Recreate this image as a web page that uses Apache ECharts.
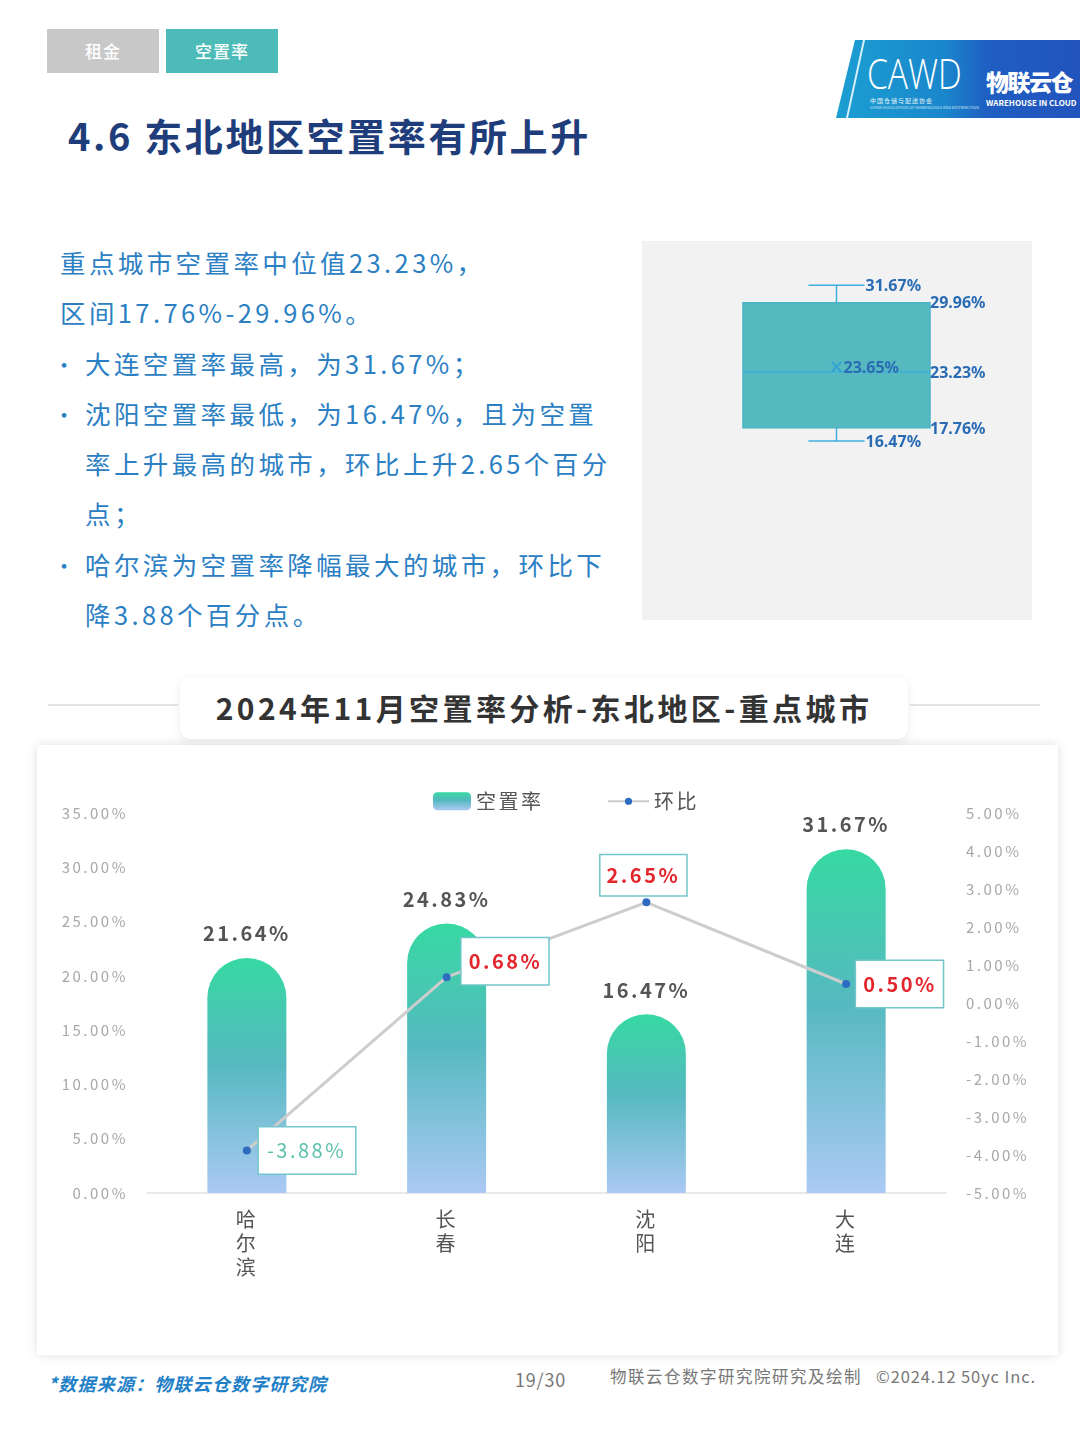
<!DOCTYPE html>
<html lang="zh-CN">
<head>
<meta charset="utf-8">
<script src="https://cdn.jsdelivr.net/npm/echarts@6/dist/echarts.min.js"></script>
<style>
  html,body{margin:0;padding:0;background:#fff;}
  #page{position:relative;width:1080px;height:1440px;overflow:hidden;background:#fff;
        font-family:"Noto Sans CJK SC","Noto Sans",sans-serif;}
  .abs{position:absolute;}
  .tab{position:absolute;top:29px;height:44px;width:112px;color:#fff;font-size:17px;
       line-height:44px;text-align:center;font-weight:500;letter-spacing:1px;}
  #title{left:68px;top:108px;font-size:38px;font-weight:700;color:#1e3d7a;letter-spacing:2.6px;line-height:54px;white-space:nowrap;}
  #desc{left:60px;top:237px;color:#2b80c4;font-size:25.5px;letter-spacing:3.4px;}
  #desc .ln{height:50.3px;line-height:50px;white-space:nowrap;position:relative;}
  #desc .ind{padding-left:25px;}
  #desc .b::before{content:"•";position:absolute;left:-7px;top:0;font-size:22px;}
  #boxPanel{left:642px;top:241px;width:390px;height:379px;background:#f2f2f2;}
  #ctitleLineL{left:48px;top:704px;width:130px;height:2px;background:#e4e4e4;}
  #ctitleLineR{left:910px;top:704px;width:130px;height:2px;background:#e4e4e4;}
  #ctitle{left:180px;top:677px;width:728px;height:62px;background:#fff;border-radius:10px;
          box-shadow:0 3px 10px rgba(0,0,0,0.08);text-align:center;line-height:60px;
          font-size:30px;font-weight:700;color:#333;letter-spacing:3.4px;white-space:nowrap;}
  #card{left:37px;top:745px;width:1021px;height:610px;background:#fff;box-shadow:0 0 10px rgba(0,0,0,0.13);}
  #main{left:37px;top:745px;width:1021px;height:610px;}
  .foot{position:absolute;white-space:nowrap;}
  #logo{left:836px;top:40px;width:244px;height:78px;
        clip-path:polygon(19px 0,100% 0,100% 100%,0 100%);
        background:linear-gradient(90deg,#1b9fd2 0%,#1a86cc 45%,#1f5ec2 62%,#2254bd 100%);}
  #logoStripe{left:846px;top:40px;width:22px;height:78px;
        clip-path:polygon(17px 0,19px 0,2px 100%,0 100%);background:#d9f0fb;}
</style>
</head>
<body>
<div id="page">
  <div class="tab" style="left:47px;background:#c8c8c8;">租金</div>
  <div class="tab" style="left:166px;background:#4dbcb8;">空置率</div>

  <div id="logo" class="abs"></div>
  <div id="logoStripe" class="abs"></div>
  <div class="abs" style="left:867px;top:49px;color:#fff;font-family:'Open Sans','Liberation Sans',sans-serif;font-weight:300;font-size:42px;line-height:48px;transform:scaleX(0.8);transform-origin:left top;">CAWD</div>
  <div class="abs" style="left:870px;top:97px;color:#e8f4fb;font-size:6px;line-height:8px;white-space:nowrap;letter-spacing:1px;">中国仓储与配送协会</div>
  <div class="abs" style="left:870px;top:105px;color:#cfe6f4;font-size:4px;line-height:5px;white-space:nowrap;">CHINA ASSOCIATION OF WAREHOUSES AND DISTRIBUTION</div>
  <div class="abs" style="left:986px;top:66px;color:#fff;font-size:23px;font-weight:900;line-height:30px;white-space:nowrap;letter-spacing:-1.5px;">物联云仓</div>
  <div class="abs" style="left:986px;top:98px;color:#fff;font-size:8px;font-weight:700;line-height:10px;white-space:nowrap;">WAREHOUSE IN CLOUD</div>

  <div id="title" class="abs">4.6 东北地区空置率有所上升</div>

  <div id="desc" class="abs">
    <div class="ln">重点城市空置率中位值23.23%，</div>
    <div class="ln">区间17.76%-29.96%。</div>
    <div class="ln ind b">大连空置率最高，为31.67%；</div>
    <div class="ln ind b">沈阳空置率最低，为16.47%，且为空置</div>
    <div class="ln ind">率上升最高的城市，环比上升2.65个百分</div>
    <div class="ln ind">点；</div>
    <div class="ln ind b">哈尔滨为空置率降幅最大的城市，环比下</div>
    <div class="ln ind">降3.88个百分点。</div>
  </div>

  <div id="boxPanel" class="abs"></div>

  <div id="ctitleLineL" class="abs"></div>
  <div id="ctitleLineR" class="abs"></div>
  <div id="card" class="abs"></div>
  <div id="ctitle" class="abs">2024年11月空置率分析-东北地区-重点城市</div>
  <div id="main" class="abs"></div>

  <div class="foot" style="left:48px;top:1370px;font-size:18px;line-height:26px;color:#1f7fc7;font-weight:700;font-style:italic;letter-spacing:1.2px;">*数据来源：物联云仓数字研究院</div>
  <div class="foot" style="left:515px;top:1366px;font-size:18px;line-height:26px;color:#777;letter-spacing:0.8px;">19/30</div>
  <div class="foot" style="left:610px;top:1363px;font-size:16.5px;line-height:26px;color:#777;letter-spacing:1.5px;">物联云仓数字研究院研究及绘制</div>
  <div class="foot" style="left:876px;top:1363px;font-size:16.5px;line-height:26px;color:#777;letter-spacing:0.9px;">©2024.12 50yc Inc.</div>
</div>

<script>
// ---------------- data ----------------
const boxCategory = ['东北地区'];
const boxStats = [16.47, 17.76, 23.23, 29.96, 31.67]; // min, Q1, median, Q3, max
const boxMean = 23.65;

const cities = ['哈尔滨', '长春', '沈阳', '大连'];
const vacancyRate = [21.64, 24.83, 16.47, 31.67];
const momChange = [-3.88, 0.68, 2.65, 0.50];

const leftAxisMin = 0, leftAxisMax = 35, leftAxisInterval = 5;
const rightAxisMin = -5, rightAxisMax = 5, rightAxisInterval = 1;

// --------------- letter spacing support for the main chart ---------------
const LS = '2.5px';
const measureCtx = document.createElement('canvas').getContext('2d');
try { measureCtx.letterSpacing = LS; } catch (e) {}
echarts.setPlatformAPI({
  measureText: function (text, font) {
    measureCtx.font = font || '12px sans-serif';
    return measureCtx.measureText(text);
  }
});
function inMain(ctx) {
  const c = ctx.canvas;
  if (!c) return false;
  if (c.__inMain === undefined) {
    if (!c.isConnected) return false;
    c.__inMain = !!(c.closest && c.closest('#main'));
  }
  return c.__inMain;
}
['fillText', 'strokeText'].forEach(function (fn) {
  const orig = CanvasRenderingContext2D.prototype[fn];
  CanvasRenderingContext2D.prototype[fn] = function (t, x, y, m) {
    try { this.letterSpacing = inMain(this) ? LS : '0px'; } catch (e) {}
    return m === undefined ? orig.call(this, t, x, y) : orig.call(this, t, x, y, m);
  };
});

const FONT = '"Noto Sans CJK SC", "Noto Sans", sans-serif';
const pct = v => Number(v).toFixed(2) + '%';

// ---------------- boxplot ----------------
const boxChart = echarts.init(document.getElementById('boxPanel'), null, {renderer: 'canvas'});
boxChart.setOption({
  animation: false,
  backgroundColor: 'transparent',
  grid: {left: 101, top: 10, width: 187, height: 205},
  xAxis: {type: 'category', data: boxCategory, show: false},
  yAxis: {type: 'value', min: 15, max: 35, show: false},
  series: [{
    type: 'custom',
    data: [[0].concat(boxStats, [boxMean])],
    renderItem: function (params, api) {
      const i = api.value(0);
      const pMin = api.coord([i, api.value(1)]);
      const pQ1 = api.coord([i, api.value(2)]);
      const pMed = api.coord([i, api.value(3)]);
      const pQ3 = api.coord([i, api.value(4)]);
      const pMax = api.coord([i, api.value(5)]);
      const pMean = api.coord([i, api.value(6)]);
      const bw = api.size([1, 0])[0];
      const cx = pMed[0], hw = bw / 2, ww = bw * 0.15;
      const lineCol = '#3eaedc';
      const txt = '#2a6cb4';
      const tfont = 'bold 16px "Noto Sans", sans-serif';
      const label = (s, x, y) => ({type: 'text', style: {text: s, x: x, y: y, align: 'left', verticalAlign: 'middle', fill: txt, font: tfont}});
      return {type: 'group', children: [
        {type: 'rect', shape: {x: cx - hw, y: pQ3[1], width: bw, height: pQ1[1] - pQ3[1]},
          style: {fill: '#56b9bf', stroke: '#4ab4c8', lineWidth: 1.5}},
        {type: 'line', shape: {x1: cx - hw, y1: pMed[1], x2: cx + hw, y2: pMed[1]}, style: {stroke: lineCol, lineWidth: 1.5}},
        {type: 'line', shape: {x1: cx, y1: pMax[1], x2: cx, y2: pQ3[1]}, style: {stroke: lineCol, lineWidth: 1.5}},
        {type: 'line', shape: {x1: cx - ww, y1: pMax[1], x2: cx + ww, y2: pMax[1]}, style: {stroke: lineCol, lineWidth: 1.5}},
        {type: 'line', shape: {x1: cx, y1: pQ1[1], x2: cx, y2: pMin[1]}, style: {stroke: lineCol, lineWidth: 1.5}},
        {type: 'line', shape: {x1: cx - ww, y1: pMin[1], x2: cx + ww, y2: pMin[1]}, style: {stroke: lineCol, lineWidth: 1.5}},
        {type: 'text', style: {text: '×', x: cx, y: pMean[1] + 1, align: 'center', verticalAlign: 'middle', fill: '#2f9fd8', font: '19px "DejaVu Sans", sans-serif'}},
        label(pct(api.value(6)), cx + 7, pMean[1] + 1),
        label(pct(api.value(5)), cx + ww + 1, pMax[1] + 1),
        label(pct(api.value(1)), cx + ww + 1, pMin[1] + 2),
        label(pct(api.value(4)), cx + hw, pQ3[1] + 1),
        label(pct(api.value(3)), cx + hw, pMed[1] + 2),
        label(pct(api.value(2)), cx + hw, pQ1[1] + 2)
      ]};
    }
  }]
});

// ---------------- main chart ----------------
const labelPlacement = [
  {position: 'right', distance: 8, offset: [0, 0], padding: [11, 9, 11, 8]},
  {position: 'right', distance: 11, offset: [0, -16]},
  {position: 'top', distance: 3, offset: [-3, 0], padding: [8, 6]},
  {position: 'right', distance: 6, offset: [0, 0]}
];

const barGradient = new echarts.graphic.LinearGradient(0, 0, 0, 1, [
  {offset: 0, color: '#36d9a2'},
  {offset: 0.45, color: '#56b9c0'},
  {offset: 1, color: '#abc9f4'}
]);

const legendText = {fontSize: 20, color: '#555', fontFamily: FONT};
const mainChart = echarts.init(document.getElementById('main'), null, {renderer: 'canvas'});
mainChart.setOption({
  animation: false,
  backgroundColor: 'transparent',
  textStyle: {fontFamily: FONT},
  legend: [{
    top: 40, left: 391, itemWidth: 38, itemHeight: 18,
    textStyle: legendText,
    data: [{name: '空置率', icon: 'roundRect'}]
  }, {
    top: 40, left: 565, itemWidth: 41, itemHeight: 9, itemTextGap: 2,
    textStyle: legendText,
    data: [{name: '环比'}]
  }],
  grid: {left: 110, right: 112, top: 68, bottom: 162},
  xAxis: {
    type: 'category', data: cities,
    axisLine: {lineStyle: {color: '#e2e2e2', width: 1.5}},
    axisTick: {show: false},
    axisLabel: {
      formatter: v => v.split('').join('\n'),
      fontSize: 20, lineHeight: 24, color: '#555', margin: 14, fontFamily: FONT
    }
  },
  yAxis: [{
    type: 'value', min: leftAxisMin, max: leftAxisMax, interval: leftAxisInterval,
    axisLine: {show: false}, axisTick: {show: false}, splitLine: {show: false},
    axisLabel: {formatter: v => pct(v), color: '#a8a8a8', fontSize: 15, margin: 19, fontFamily: FONT}
  }, {
    type: 'value', min: rightAxisMin, max: rightAxisMax, interval: rightAxisInterval,
    axisLine: {show: false}, axisTick: {show: false}, splitLine: {show: false},
    axisLabel: {formatter: v => pct(v), color: '#a8a8a8', fontSize: 15, margin: 20, fontFamily: FONT}
  }],
  series: [{
    name: '空置率', type: 'bar', data: vacancyRate, barWidth: 79,
    itemStyle: {color: barGradient, borderRadius: [40, 40, 0, 0]},
    label: {
      show: true, position: 'top', distance: 13,
      formatter: p => pct(p.value),
      color: '#555', fontWeight: 'bold', fontSize: 20, fontFamily: FONT
    }
  }, {
    name: '环比', type: 'line', yAxisIndex: 1, z: 5,
    symbol: 'circle', symbolSize: 8,
    lineStyle: {color: '#cdcdcd', width: 3},
    itemStyle: {color: '#2e6cc2'},
    data: momChange.map((v, i) => ({
      value: v,
      label: Object.assign({color: v < 0 ? '#5cc2ad' : '#e3262c', fontWeight: v < 0 ? 'normal' : 'bold'}, labelPlacement[i])
    })),
    label: {
      show: true, formatter: p => pct(p.value),
      backgroundColor: '#fff', borderColor: '#72c6ca', borderWidth: 1.5,
      padding: [11, 6, 11, 7], fontSize: 20, lineHeight: 24, fontFamily: FONT
    }
  }]
});
</script>
</body>
</html>
